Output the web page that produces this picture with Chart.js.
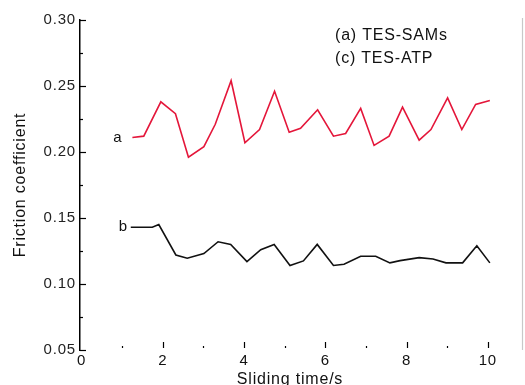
<!DOCTYPE html>
<html><head><meta charset="utf-8">
<script src="https://cdn.jsdelivr.net/npm/chart.js@4"></script>
<style>html,body{margin:0;padding:0;background:#fff}#wrap{width:525px;height:385px}</style>
</head><body><div id="wrap"><canvas id="c" width="525" height="385"></canvas></div>
<script>
const timeA = [1.25,1.53,1.95,2.31,2.63,3.01,3.29,3.68,4.02,4.38,4.75,5.11,5.39,5.81,6.20,6.50,6.87,7.20,7.57,7.90,8.31,8.60,9.01,9.36,9.70,10.05];
const frictionA = [0.211,0.212,0.238,0.229,0.196,0.204,0.221,0.254,0.207,0.217,0.246,0.215,0.218,0.232,0.212,0.214,0.233,0.205,0.212,0.234,0.209,0.217,0.241,0.217,0.236,0.239];
const timeB = [1.21,1.74,1.90,2.32,2.60,3.01,3.36,3.67,4.07,4.41,4.74,5.13,5.46,5.80,6.20,6.46,6.87,7.24,7.59,7.84,8.31,8.65,8.97,9.38,9.73,10.05];
const frictionB = [0.143,0.143,0.145,0.122,0.1195,0.123,0.132,0.130,0.117,0.126,0.130,0.114,0.1175,0.130,0.114,0.115,0.121,0.121,0.116,0.1177,0.120,0.119,0.116,0.116,0.129,0.116];
const xTicks = [0,2,4,6,8,10];
const yTicks = [0.05,0.10,0.15,0.20,0.25,0.30];
const seriesNames = ['(a) TES-SAMs','(c) TES-ATP'];
const curveLabels = ['a','b'];
const seriesColors = ['rgb(228,22,58)','#111'];

const FONT = '"Liberation Sans", Arial, sans-serif';

const deco = {
  id: 'deco',
  beforeUpdate(chart){ chart.ctx.letterSpacing = '0.8px'; },
  afterDraw(chart){
    const {ctx, scales:{x, y}, chartArea:a} = chart;
    ctx.save();
    ctx.strokeStyle = '#000';
    ctx.lineWidth = 1.2;
    for (let i = 0; i <= 10; i++) {
      const v = 0.05 + i * 0.025;
      const py = Math.round(y.getPixelForValue(v)) + 0.5;
      ctx.beginPath(); ctx.moveTo(a.left, py); ctx.lineTo(a.left + (i % 2 === 0 ? 6 : 3), py); ctx.stroke();
    }
    for (let v = 1; v <= 10; v++) {
      const px = Math.round(x.getPixelForValue(v)) + 0.5;
      ctx.beginPath(); ctx.moveTo(px, a.bottom - 2); ctx.lineTo(px, a.bottom - (v % 2 === 0 ? 8 : 4)); ctx.stroke();
    }
    ctx.strokeStyle = '#c8c8c8';
    ctx.beginPath(); ctx.moveTo(522.5, a.top - 2); ctx.lineTo(522.5, a.bottom); ctx.stroke();
    ctx.fillStyle = '#111';
    ctx.font = '15px ' + FONT;
    ctx.textAlign = 'right'; ctx.textBaseline = 'middle';
    ctx.fillText(curveLabels[0], x.getPixelForValue(timeA[0]) - 10, y.getPixelForValue(frictionA[0]));
    ctx.fillText(curveLabels[1], x.getPixelForValue(timeB[0]) - 3, y.getPixelForValue(frictionB[0]));
    ctx.textAlign = 'left';
    ctx.font = '16px ' + FONT;
    ctx.fillText(seriesNames[0], 335, 36);
    ctx.fillText(seriesNames[1], 335, 59);
    ctx.restore();
  }
};

new Chart(document.getElementById('c'), {
  type: 'scatter',
  data: {
    datasets: [
      { data: timeA.map((t, i) => ({x: t, y: frictionA[i]})), showLine: true, borderColor: seriesColors[0], borderWidth: 1.6, pointRadius: 0, tension: 0 },
      { data: timeB.map((t, i) => ({x: t, y: frictionB[i]})), showLine: true, borderColor: seriesColors[1], borderWidth: 1.6, pointRadius: 0, tension: 0 }
    ]
  },
  options: {
    responsive: false,
    animation: false,
    layout: { padding: { top: 20, right: 25, left: 0, bottom: 0 } },
    plugins: { legend: { display: false }, tooltip: { enabled: false } },
    scales: {
      x: {
        type: 'linear', min: -0.04, max: 10.3,
        afterBuildTicks: s => { s.ticks = xTicks.map(v => ({value: v})); },
        afterFit: s => { s.height = 35; },
        grid: { display: false, drawTicks: false },
        border: { display: false },
        ticks: { color: '#111', padding: 2, font: { size: 15, family: FONT }, maxRotation: 0, autoSkip: false, callback: v => String(v) },
        title: { display: true, text: 'Sliding time/s', color: '#111', font: { size: 16, family: FONT, lineHeight: 1 }, padding: { top: 0, bottom: -3 } }
      },
      y: {
        type: 'linear', min: 0.05, max: 0.30,
        afterBuildTicks: s => { s.ticks = yTicks.map(v => ({value: v})); },
        afterFit: s => { s.width = 80; },
        grid: { display: false, drawTicks: false },
        border: { display: true, color: '#000', width: 1.5 },
        ticks: { color: '#222', padding: 4, font: { size: 15, family: FONT }, autoSkip: false, callback: v => v.toFixed(2) },
        title: { display: true, text: 'Friction coefficient', color: '#111', font: { size: 16, family: FONT, lineHeight: 1 }, padding: { top: 13, bottom: 0 } }
      }
    }
  },
  plugins: [deco]
});
</script>
</body></html>
